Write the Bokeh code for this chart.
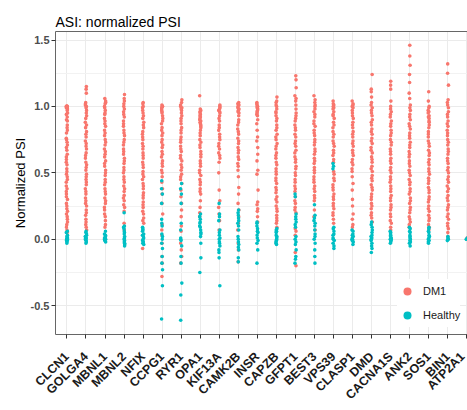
import math
from bokeh.plotting import figure
from bokeh.models import ColumnDataSource, Range1d, FixedTicker, LinearAxis, PrintfTickFormatter
from bokeh.transform import jitter
from bokeh.embed import file_html
from bokeh.resources import INLINE

genes = ["CLCN1", "GOLGA4", "MBNL1", "MBNL2", "NFIX", "CCPG1", "RYR1", "OPA1",
         "KIF13A", "CAMK2B", "INSR", "CAPZB", "GFPT1", "BEST3", "VPS39", "CLASP1",
         "DMD", "CACNA1S", "ANK2", "SOS1", "BIN1", "ATP2A1"]
groups = ["DM1", "Healthy"]
y_ticks = [-0.5, 0.0, 0.5, 1.0, 1.5]
y_minor = [-0.75, -0.25, 0.25, 0.75, 1.25]

clcn1_dm1 = [1.00, 1.00, 1.00, 1.00, 0.99, 0.99, 0.98, 1.00, 0.99, 0.97, 0.95, 0.94, 0.92, 0.90, 0.89, 0.86, 0.84,
             0.82, 0.80, 0.76, 0.75, 0.73, 0.71, 0.69, 0.67, 0.64, 0.62, 0.60, 0.58, 0.56, 0.53, 0.51, 0.49, 0.47,
             0.45, 0.43, 0.40, 0.38, 0.36, 0.34, 0.32, 0.30, 0.27, 0.25, 0.23, 0.21, 0.19, 0.17, 0.15, 0.13, 0.11,
             0.09, 0.07, 0.05]
clcn1_healthy = [0.06, 0.05, 0.03, 0.02, 0.01, 0.00, 0.00, 0.00, -0.01, -0.02, -0.03, 0.01, 0.00, -0.01]
golga4_dm1 = [1.15, 1.13, 1.10, 1.03, 1.02, 1.01, 1.00, 0.99, 0.97, 0.95, 0.93, 0.91, 0.88, 0.86, 0.84, 0.81, 0.79,
              0.77, 0.74, 0.72, 0.70, 0.68, 0.65, 0.63, 0.61, 0.58, 0.56, 0.54, 0.52, 0.49, 0.47, 0.45, 0.43, 0.41,
              0.38, 0.36, 0.34, 0.31, 0.29, 0.27, 0.25, 0.22, 0.20, 0.18, 0.15, 0.13, 0.11, 0.09, 0.07]
golga4_healthy = [0.06, 0.05, 0.04, 0.03, 0.02, 0.01, 0.00, 0.00, -0.01, -0.02, -0.03, 0.02, 0.01]
mbnl1_dm1 = [1.06, 1.04, 1.03, 1.02, 1.00, 0.99, 0.97, 0.95, 0.94, 0.91, 0.89, 0.87, 0.85, 0.82, 0.80, 0.78, 0.75,
             0.73, 0.71, 0.68, 0.66, 0.64, 0.62, 0.59, 0.57, 0.55, 0.52, 0.50, 0.48, 0.45, 0.43, 0.41, 0.38, 0.36,
             0.34, 0.31, 0.29, 0.27, 0.24, 0.22, 0.19, 0.17, 0.14, 0.11, 0.09]
mbnl1_healthy = [0.06, 0.04, 0.03, 0.02, 0.01, 0.00, 0.00, -0.01, -0.02, 0.01, 0.00]
mbnl2_dm1 = [1.09, 1.06, 1.04, 1.02, 1.00, 0.98, 0.96, 0.94, 0.92, 0.89, 0.87, 0.85, 0.82, 0.80, 0.78, 0.75, 0.73,
             0.71, 0.68, 0.66, 0.64, 0.61, 0.59, 0.57, 0.54, 0.52, 0.50, 0.47, 0.45, 0.43, 0.40, 0.38, 0.36, 0.33,
             0.31, 0.29, 0.26, 0.24, 0.21, 0.12, 0.07]
mbnl2_healthy = [0.20, 0.10, 0.09, 0.08, 0.06, 0.05, 0.04, 0.02, 0.01, 0.00, -0.01, -0.02, -0.03, -0.04, -0.05]
nfix_dm1 = [1.03, 1.02, 1.00, 0.99, 0.97, 0.95, 0.93, 0.91, 0.88, 0.86, 0.84, 0.81, 0.79, 0.77, 0.75, 0.72, 0.70,
            0.68, 0.65, 0.63, 0.61, 0.58, 0.56, 0.54, 0.51, 0.49, 0.47, 0.45, 0.42, 0.40, 0.38, 0.35, 0.33, 0.31,
            0.28, 0.26, 0.24, 0.21, 0.19, 0.16, 0.14, 0.12, -0.07]
nfix_healthy = [0.09, 0.08, 0.07, 0.06, 0.04, 0.03, 0.02, 0.01, 0.00, -0.01, -0.02, -0.03, -0.04]
ccpg1_dm1 = [1.01, 1.00, 1.00, 0.99, 0.98, 0.97, 0.96, 0.95, 0.93, 0.91, 0.89, 0.87, 0.84, 0.82, 0.80, 0.78, 0.75,
             0.73, 0.71, 0.69, 0.66, 0.64, 0.62, 0.59, 0.57, 0.55, 0.52, 0.50, 0.47, 0.43, 0.38, 0.34, 0.27, 0.19,
             0.11, 0.07, 0.03, -0.03, -0.13, -0.18, -0.28]
ccpg1_healthy = [0.44, 0.38, 0.34, 0.27, 0.15, 0.12, 0.10, 0.04, 0.02, 0.00, -0.03, -0.07, -0.13, -0.18, -0.23,
                 -0.35, -0.60]
ryr1_dm1 = [1.05, 1.03, 1.01, 1.00, 0.99, 0.98, 0.97, 0.95, 0.93, 0.91, 0.89, 0.87, 0.84, 0.82, 0.80, 0.77, 0.75,
            0.73, 0.70, 0.68, 0.66, 0.63, 0.61, 0.59, 0.56, 0.54, 0.52, 0.49, 0.47, 0.45, 0.42, 0.37, 0.32, 0.27,
            0.22, 0.17, 0.10, 0.06, -0.03, -0.08, -0.13, -0.18]
ryr1_healthy = [0.42, 0.38, 0.34, 0.27, 0.12, 0.07, 0.01, 0.00, -0.01, -0.05, -0.13, -0.18, -0.33, -0.42, -0.61]
opa1_dm1 = [1.08, 0.98, 0.97, 0.96, 0.95, 0.94, 0.93, 0.92, 0.91, 0.90, 0.89, 0.88, 0.87, 0.86, 0.85, 0.84, 0.82,
            0.80, 0.78, 0.75, 0.73, 0.71, 0.69, 0.66, 0.64, 0.62, 0.59, 0.57, 0.55, 0.52, 0.50, 0.48, 0.45, 0.43,
            0.41, 0.38, 0.36, 0.34, 0.29, 0.24, 0.20, 0.17]
opa1_healthy = [0.19, 0.17, 0.15, 0.13, 0.12, 0.10, 0.09, 0.07, 0.05, 0.04, 0.02, -0.03, -0.14, -0.25]
kif13a_dm1 = [1.01, 1.00, 0.99, 0.98, 0.97, 0.96, 0.95, 0.93, 0.91, 0.89, 0.86, 0.84, 0.82, 0.79, 0.77, 0.75, 0.72,
              0.70, 0.68, 0.65, 0.63, 0.61, 0.58, 0.50, 0.37, 0.29, 0.24, 0.19, 0.14, 0.07]
kif13a_healthy = [0.27, 0.19, 0.17, 0.14, 0.07, 0.05, 0.03, 0.01, 0.00, -0.02, -0.03, -0.05, -0.08, -0.10, -0.14,
                  -0.35]
camk2b_dm1 = [1.03, 1.02, 1.01, 1.00, 0.99, 0.98, 0.97, 0.96, 0.95, 0.93, 0.90, 0.88, 0.86, 0.83, 0.81, 0.79, 0.76,
              0.74, 0.72, 0.69, 0.67, 0.65, 0.62, 0.60, 0.57, 0.55, 0.52, 0.47, 0.39, 0.34, 0.27, 0.22, 0.17, 0.12,
              0.07, -0.03, -0.08, -0.17]
camk2b_healthy = [0.22, 0.20, 0.18, 0.16, 0.14, 0.12, 0.10, 0.07, 0.02, 0.00, -0.02, -0.04, -0.06, -0.08, -0.14,
                  -0.17]
insr_dm1 = [1.03, 1.02, 1.01, 1.00, 1.00, 0.99, 0.98, 0.97, 0.96, 0.95, 0.94, 0.93, 0.90, 0.87, 0.82, 0.77, 0.74,
            0.69, 0.64, 0.59, 0.52, 0.49, 0.37, 0.28, 0.26, 0.23, 0.21, 0.17, 0.13]
insr_healthy = [0.13, 0.12, 0.10, 0.08, 0.06, 0.05, 0.03, 0.01, -0.01, -0.03, -0.08, -0.18]
capzb_dm1 = [1.07, 1.04, 1.03, 1.01, 1.00, 0.98, 0.96, 0.95, 0.93, 0.91, 0.89, 0.86, 0.84, 0.82, 0.79, 0.77, 0.75,
             0.72, 0.70, 0.68, 0.65, 0.63, 0.61, 0.58, 0.56, 0.53, 0.51, 0.49, 0.46, 0.44, 0.42, 0.39, 0.37, 0.35,
             0.32, 0.30, 0.28, 0.25, 0.23, 0.21, 0.18, 0.16, 0.14, 0.12, 0.09]
capzb_healthy = [0.08, 0.07, 0.06, 0.05, 0.03, 0.02, 0.01, 0.00, -0.01, -0.02, -0.03, -0.04]
gfpt1_dm1 = [1.23, 1.20, 1.14, 1.08, 1.06, 1.04, 1.01, 0.98, 0.95, 0.93, 0.91, 0.89, 0.86, 0.84, 0.82, 0.79, 0.77,
             0.74, 0.72, 0.70, 0.67, 0.65, 0.62, 0.60, 0.58, 0.55, 0.53, 0.50, 0.48, 0.45, 0.43, 0.40, 0.38, 0.36,
             0.32, 0.29, 0.27, 0.24, 0.22, 0.20, 0.08, 0.06, 0.03, -0.10, -0.20]
gfpt1_healthy = [0.34, 0.32, 0.19, 0.17, 0.15, 0.13, 0.11, 0.09, 0.02, 0.00, -0.02, -0.04, -0.08, -0.13, -0.15, -0.18]
best3_dm1 = [1.08, 1.05, 1.03, 1.01, 1.00, 0.98, 0.96, 0.94, 0.92, 0.89, 0.87, 0.85, 0.82, 0.80, 0.78, 0.75, 0.73,
             0.71, 0.68, 0.66, 0.64, 0.61, 0.59, 0.57, 0.54, 0.52, 0.50, 0.47, 0.45, 0.43, 0.40, 0.38, 0.36, 0.33,
             0.31, 0.29, 0.22, 0.17, 0.07]
best3_healthy = [0.26, 0.18, 0.16, 0.14, 0.12, 0.10, 0.07, 0.04, 0.02, 0.00, -0.03, -0.08, -0.13, -0.18]
vps39_dm1 = [1.04, 1.02, 1.01, 1.00, 0.99, 0.98, 0.96, 0.94, 0.93, 0.91, 0.88, 0.86, 0.84, 0.81, 0.79, 0.77, 0.74,
             0.72, 0.70, 0.67, 0.65, 0.63, 0.60, 0.58, 0.51, 0.49, 0.46, 0.44, 0.41, 0.39, 0.37, 0.34, 0.32, 0.30,
             0.27, 0.25, 0.23, 0.20, 0.18, 0.15, 0.12]
vps39_healthy = [0.57, 0.55, 0.53, 0.09, 0.08, 0.06, 0.04, 0.03, 0.01, 0.00, -0.01, -0.03, -0.05, -0.07]
clasp1_dm1 = [1.04, 1.02, 1.01, 1.00, 0.99, 0.97, 0.95, 0.93, 0.91, 0.88, 0.86, 0.84, 0.81, 0.79, 0.77, 0.74, 0.72,
              0.70, 0.67, 0.65, 0.63, 0.60, 0.58, 0.56, 0.53, 0.51, 0.47, 0.42, 0.37, 0.30, 0.25, 0.19, 0.15, 0.11,
              0.09]
clasp1_healthy = [0.07, 0.06, 0.04, 0.03, 0.02, 0.01, 0.00, 0.00, -0.01, -0.02, -0.04]
dmd_dm1 = [1.24, 1.13, 1.11, 1.07, 1.03, 1.01, 0.99, 0.97, 0.95, 0.93, 0.90, 0.88, 0.86, 0.83, 0.81, 0.79, 0.76,
           0.74, 0.72, 0.69, 0.67, 0.65, 0.62, 0.60, 0.58, 0.55, 0.53, 0.51, 0.48, 0.46, 0.44, 0.41, 0.39, 0.37,
           0.34, 0.32, 0.30, 0.27, 0.25, 0.23, 0.20, 0.18, 0.16, 0.13]
dmd_healthy = [0.13, 0.11, 0.09, 0.07, 0.05, 0.03, 0.02, 0.01, 0.00, -0.01, -0.03, -0.05, -0.07, -0.10]
cacna1s_dm1 = [1.19, 1.16, 1.13, 1.04, 1.00, 0.98, 0.96, 0.94, 0.92, 0.89, 0.87, 0.85, 0.82, 0.80, 0.78, 0.75, 0.73,
               0.71, 0.68, 0.66, 0.64, 0.61, 0.59, 0.57, 0.54, 0.52, 0.50, 0.47, 0.45, 0.43, 0.40, 0.38, 0.36, 0.33,
               0.31, 0.29, 0.26, 0.24, 0.22, 0.19, 0.17, 0.14, 0.12, 0.09, 0.07]
cacna1s_healthy = [0.06, 0.05, 0.04, 0.03, 0.02, 0.01, 0.00, 0.00, -0.01, -0.02, -0.03]
ank2_dm1 = [1.46, 1.38, 1.31, 1.24, 1.18, 1.10, 1.06, 1.01, 0.99, 0.97, 0.94, 0.92, 0.90, 0.87, 0.85, 0.83, 0.80,
            0.78, 0.76, 0.73, 0.71, 0.69, 0.66, 0.64, 0.62, 0.59, 0.57, 0.55, 0.52, 0.50, 0.48, 0.45, 0.43, 0.41,
            0.38, 0.36, 0.34, 0.31, 0.29, 0.27, 0.24, 0.22, 0.20, 0.17, 0.15, 0.13, 0.11, 0.09]
ank2_healthy = [0.09, 0.08, 0.06, 0.05, 0.03, 0.02, 0.01, 0.00, -0.01, -0.02, -0.03, -0.05]
sos1_dm1 = [1.11, 1.04, 1.00, 0.99, 0.97, 0.96, 0.95, 0.93, 0.92, 0.91, 0.89, 0.88, 0.86, 0.84, 0.81, 0.79, 0.77,
            0.74, 0.72, 0.70, 0.67, 0.65, 0.63, 0.60, 0.58, 0.56, 0.53, 0.51, 0.49, 0.46, 0.44, 0.42, 0.39, 0.37,
            0.35, 0.32, 0.30, 0.28, 0.25, 0.23, 0.21, 0.18, 0.16, 0.14, 0.11, 0.09, 0.07]
sos1_healthy = [0.09, 0.08, 0.06, 0.05, 0.03, 0.02, 0.01, 0.00, -0.01, -0.02, -0.03]
bin1_dm1 = [1.32, 1.25, 1.16, 1.05, 1.03, 1.01, 0.99, 0.96, 0.94, 0.92, 0.89, 0.87, 0.85, 0.82, 0.80, 0.78, 0.75,
            0.73, 0.71, 0.68, 0.66, 0.64, 0.61, 0.59, 0.57, 0.54, 0.52, 0.50, 0.47, 0.45, 0.43, 0.40, 0.38, 0.36,
            0.33, 0.31, 0.29, 0.26, 0.24, 0.22, 0.19, 0.17, 0.15, 0.12, 0.10, 0.08, 0.05, 0.02]
bin1_healthy = [0.02, 0.01, 0.00, 0.00, -0.01]
atp2a1_dm1 = [0.01, 0.00]
atp2a1_healthy = [0.01, 0.00, 0.00]

dm1_lists = [clcn1_dm1, golga4_dm1, mbnl1_dm1, mbnl2_dm1, nfix_dm1, ccpg1_dm1, ryr1_dm1, opa1_dm1,
             kif13a_dm1, camk2b_dm1, insr_dm1, capzb_dm1, gfpt1_dm1, best3_dm1, vps39_dm1, clasp1_dm1,
             dmd_dm1, cacna1s_dm1, ank2_dm1, sos1_dm1, bin1_dm1, atp2a1_dm1]
healthy_lists = [clcn1_healthy, golga4_healthy, mbnl1_healthy, mbnl2_healthy, nfix_healthy, ccpg1_healthy,
                 ryr1_healthy, opa1_healthy, kif13a_healthy, camk2b_healthy, insr_healthy, capzb_healthy,
                 gfpt1_healthy, best3_healthy, vps39_healthy, clasp1_healthy, dmd_healthy, cacna1s_healthy,
                 ank2_healthy, sos1_healthy, bin1_healthy, atp2a1_healthy]


def to_source(lists):
    xs, ys = [], []
    for i, vals in enumerate(lists, start=1):
        xs += [i] * len(vals)
        ys += vals
    return ColumnDataSource(dict(x=xs, y=ys))


FONT = "Liberation Sans"
COLORS = {"DM1": "#F8766D", "Healthy": "#00BFC4"}

p = figure(width=467, height=410, output_backend="svg", toolbar_location=None,
           x_range=Range1d(0.4, 22.03), y_range=Range1d(-0.717, 1.564),
           min_border_left=55, min_border_right=0, min_border_top=31, min_border_bottom=75,
           title="ASI: normalized PSI")
p.outline_line_color = None
p.background_fill_color = "white"
p.border_fill_color = "white"

p.title.text_font = FONT
p.title.text_font_size = "14px"
p.title.text_font_style = "normal"
p.title.text_color = "#000000"
p.title.align = "left"
p.title.standoff = 4

x_ticker = FixedTicker(ticks=list(range(1, len(genes) + 1)))
p.xaxis.ticker = x_ticker
p.xaxis.major_label_overrides = {i: g for i, g in enumerate(genes, start=1)}
p.xaxis.major_label_orientation = math.pi / 4
p.xaxis.major_label_text_font = FONT
p.xaxis.major_label_text_font_size = "12.5px"
p.xaxis.major_label_text_font_style = "bold"
p.xaxis.major_label_text_color = "#1A1A1A"
p.xaxis.major_label_standoff = 16
p.xgrid.ticker = x_ticker

y_ticker = FixedTicker(ticks=y_ticks, minor_ticks=y_minor)
p.yaxis.ticker = y_ticker
p.yaxis.formatter = PrintfTickFormatter(format="%.1f")
p.yaxis.axis_label = "Normalized PSI"
p.yaxis.axis_label_text_font = FONT
p.yaxis.axis_label_text_font_size = "13px"
p.yaxis.axis_label_text_font_style = "normal"
p.yaxis.axis_label_text_color = "#000000"
p.yaxis.axis_label_standoff = 0
p.yaxis.major_label_text_font = FONT
p.yaxis.major_label_text_font_size = "11px"
p.yaxis.major_label_text_font_style = "bold"
p.yaxis.major_label_text_color = "#4D4D4D"
p.yaxis.major_label_standoff = 2

for ax in (p.xaxis, p.yaxis):
    ax.axis_line_color = "#666666"
    ax.axis_line_width = 1
    ax.major_tick_line_color = "#333333"
    ax.major_tick_out = 4
    ax.major_tick_in = 0
    ax.minor_tick_line_color = None

top = LinearAxis(ticker=FixedTicker(ticks=[]), axis_line_color="#666666", major_tick_line_color=None,
                 minor_tick_line_color=None, major_label_text_font_size="0px")
p.add_layout(top, "above")

p.xgrid.grid_line_color = "#EBEBEB"
p.ygrid.grid_line_color = "#EBEBEB"
p.ygrid.minor_grid_line_color = "#F2F2F2"

for name, lists in zip(groups, [dm1_lists, healthy_lists]):
    p.scatter(x=jitter("x", width=0.07), y="y", source=to_source(lists), size=3.6,
              fill_color=COLORS[name], line_color=None, legend_label=name)

lg = p.legend[0]
lg.location = (342, 7)
lg.background_fill_color = "white"
lg.background_fill_alpha = 1
lg.border_line_color = None
lg.glyph_width = 20
lg.glyph_height = 24
lg.label_standoff = 6
lg.padding = 4
lg.spacing = 0
lg.margin = 0
lg.label_text_font = FONT
lg.label_text_font_size = "11px"
lg.label_text_color = "#1A1A1A"

open("out.html", "w").write(file_html(p, INLINE))
